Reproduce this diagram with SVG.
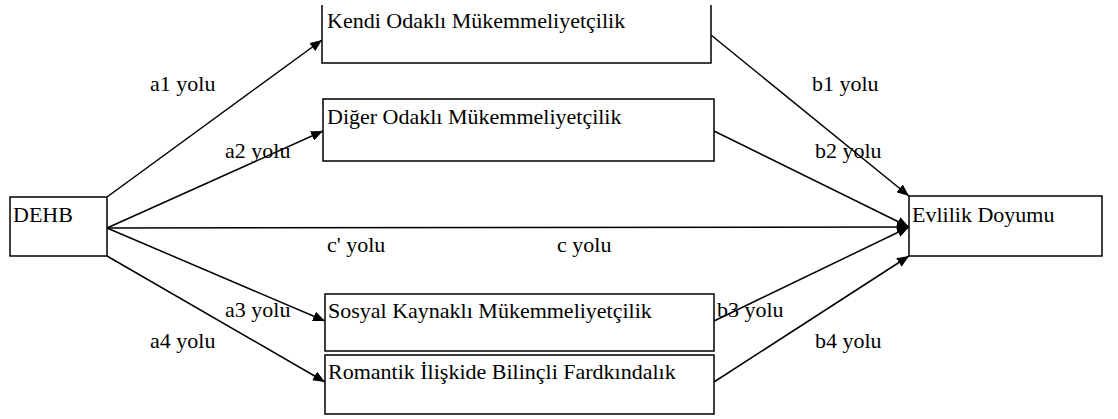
<svg xmlns="http://www.w3.org/2000/svg" width="1118" height="419" viewBox="0 0 1118 419">
<style>
.box{fill:#fff;stroke:#000;stroke-width:1.5}
.t{font-family:'Liberation Serif','DejaVu Serif',serif;font-size:22px;fill:#000}
.ln{stroke:#000;stroke-width:1.5;fill:none;marker-end:url(#ah)}
</style>
<defs>
<marker id="ah" viewBox="0 0 12 10" refX="12" refY="5" markerWidth="12" markerHeight="10" markerUnits="userSpaceOnUse" orient="auto">
<path d="M0,0 L12,5 L0,10 Z" fill="#000"/>
</marker>
</defs>
<rect width="1118" height="419" fill="#fff"/>
<g id="connectors">
<line class="ln" x1="107" y1="197" x2="322" y2="40"/>
<line class="ln" x1="107" y1="228" x2="323" y2="131"/>
<line class="ln" x1="107" y1="228" x2="909" y2="227"/>
<line class="ln" x1="107" y1="228" x2="325" y2="321"/>
<line class="ln" x1="107" y1="256" x2="325" y2="382"/>
<line class="ln" x1="711" y1="35" x2="909" y2="196"/>
<line class="ln" x1="714" y1="131" x2="909" y2="227"/>
<line class="ln" x1="714" y1="321" x2="909" y2="227"/>
<line class="ln" x1="714" y1="382" x2="909" y2="256"/>
</g>
<g id="n-dehb"><rect class="box" x="10" y="197" width="97" height="59"/><text class="t" x="13" y="222">DEHB</text></g>
<g id="n-kendi"><path class="box" d="M322,5 V63 H711 V5"/><text class="t" x="327" y="28">Kendi Odaklı Mükemmeliyetçilik</text></g>
<g id="n-diger"><rect class="box" x="323" y="99" width="391" height="62"/><text class="t" x="327" y="124">Diğer Odaklı Mükemmeliyetçilik</text></g>
<g id="n-sosyal"><rect class="box" x="325" y="294" width="389" height="57"/><text class="t" x="328" y="318">Sosyal Kaynaklı Mükemmeliyetçilik</text></g>
<g id="n-romantik"><rect class="box" x="325" y="355" width="389" height="59"/><text class="t" x="328" y="379">Romantik İlişkide Bilinçli Fardkındalık</text></g>
<g id="n-evlilik"><rect class="box" x="909" y="196" width="193" height="60"/><text class="t" x="912" y="222">Evlilik Doyumu</text></g>
<g id="labels">
<text class="t" x="150" y="91">a1 yolu</text>
<text class="t" x="812" y="91">b1 yolu</text>
<text class="t" x="225" y="158">a2 yolu</text>
<text class="t" x="815" y="158">b2 yolu</text>
<text class="t" x="327" y="252">c' yolu</text>
<text class="t" x="557" y="252">c yolu</text>
<text class="t" x="225" y="317">a3 yolu</text>
<text class="t" x="717" y="317">b3 yolu</text>
<text class="t" x="150" y="348">a4 yolu</text>
<text class="t" x="815" y="348">b4 yolu</text>
</g>
</svg>
